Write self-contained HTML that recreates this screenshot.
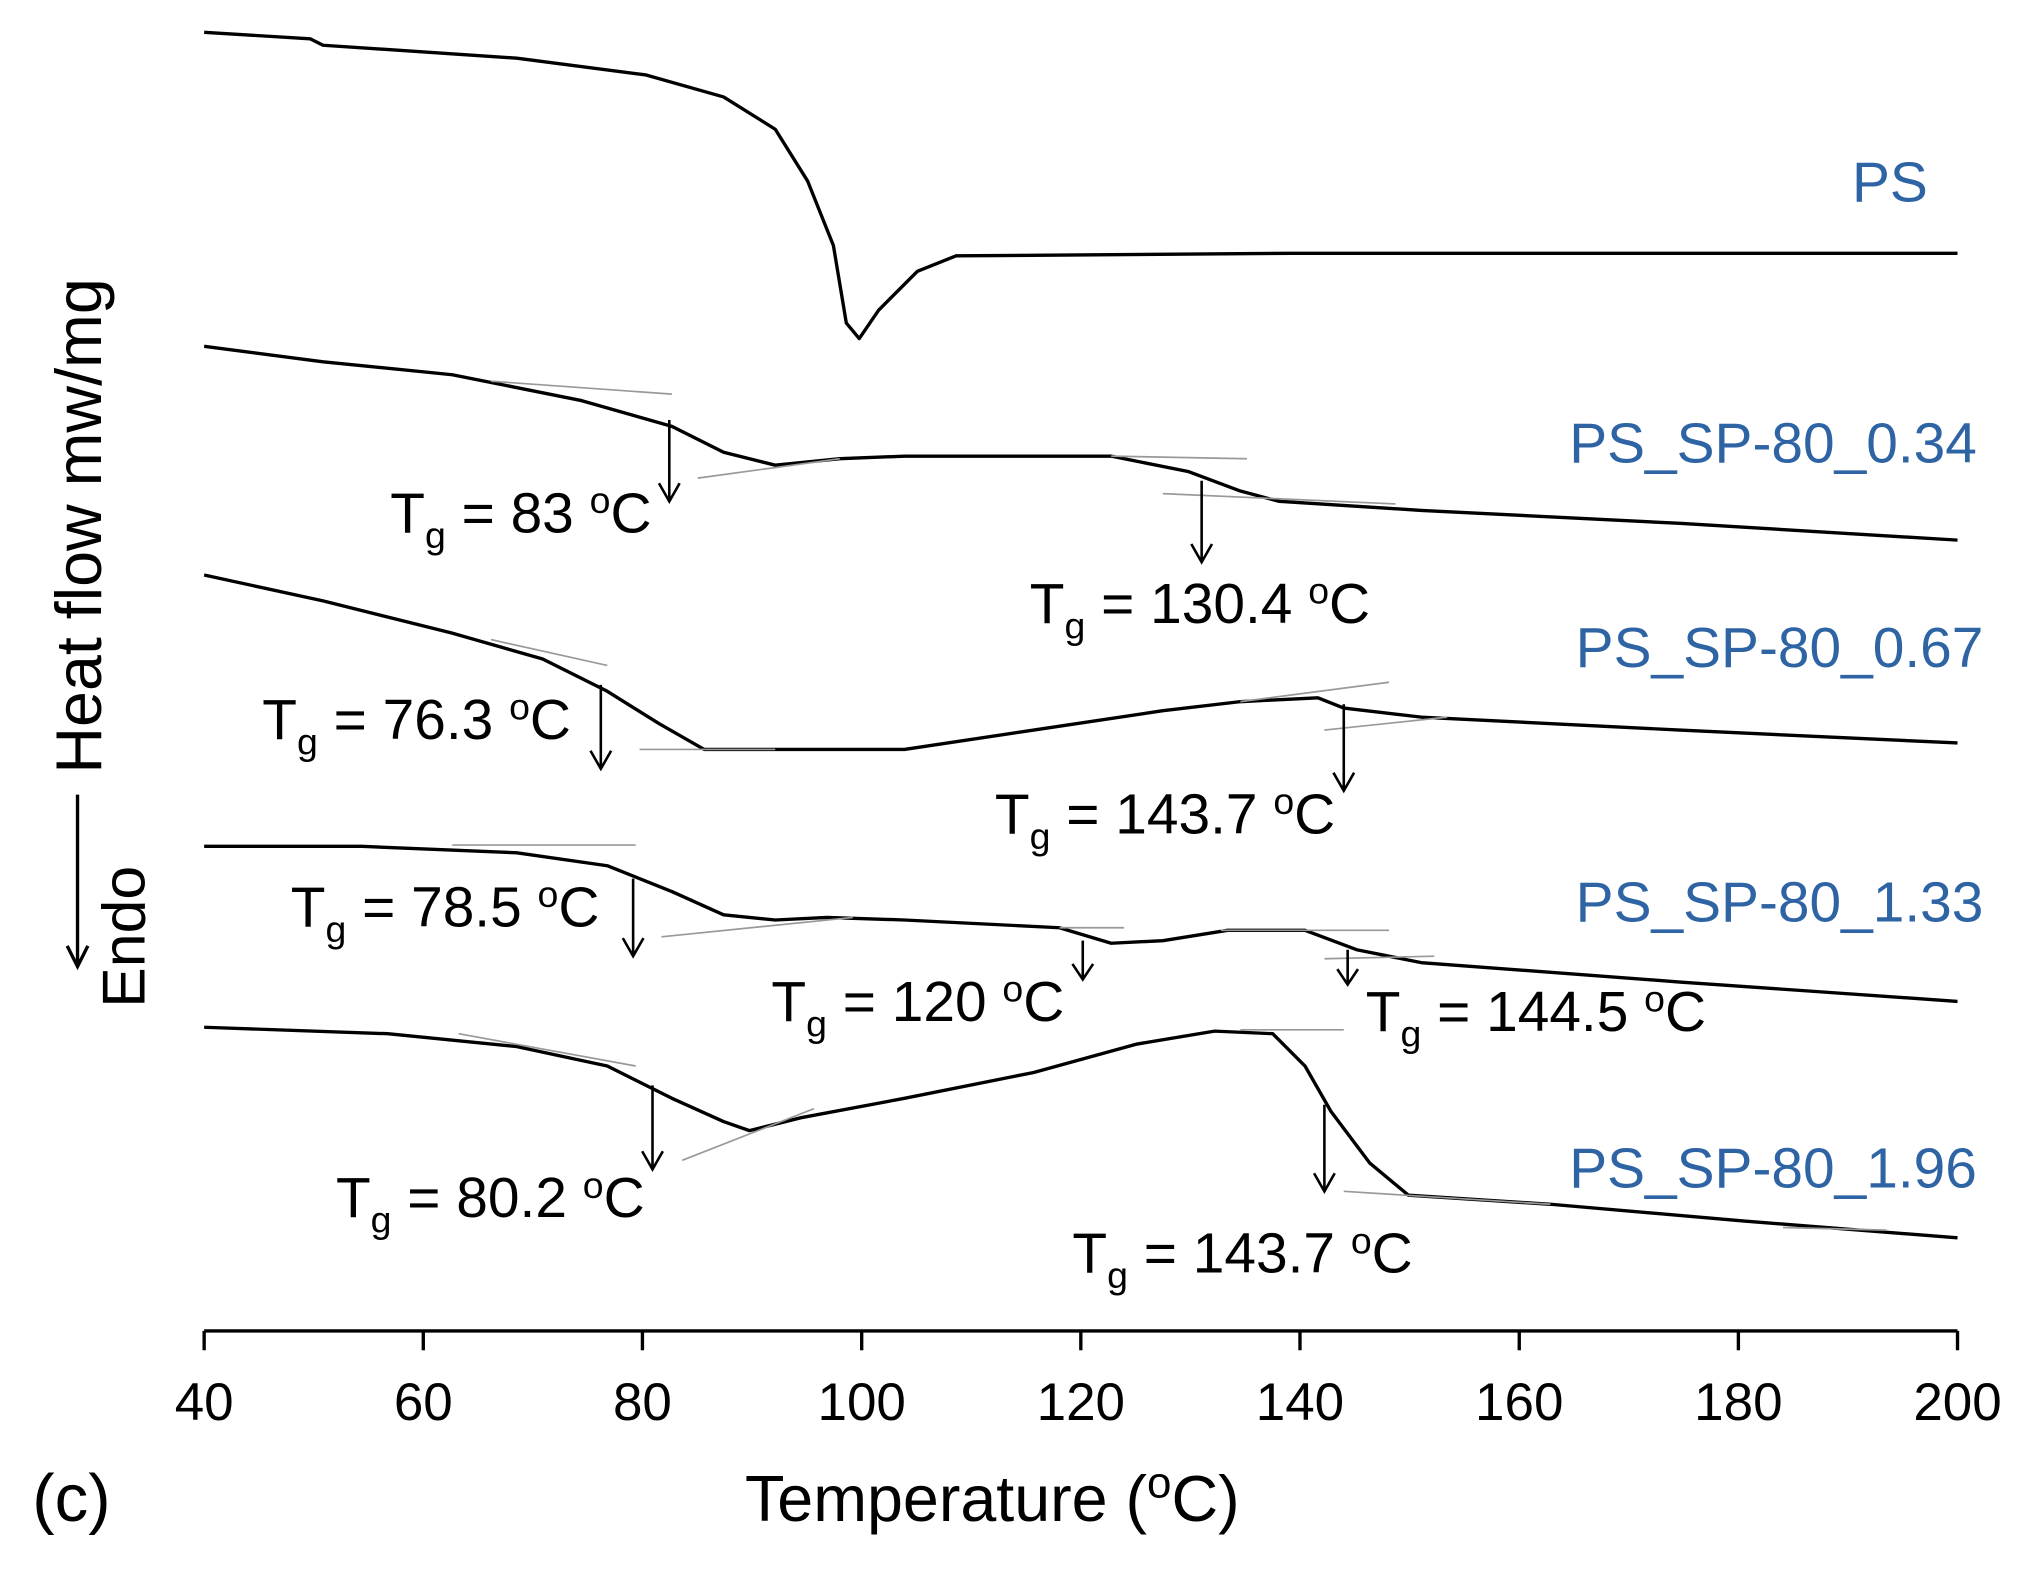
<!DOCTYPE html>
<html><head><meta charset="utf-8"><style>html,body{margin:0;padding:0;background:#fff}svg{display:block}</style></head>
<body>
<svg width="2026" height="1579" viewBox="0 0 1568 1222" xmlns="http://www.w3.org/2000/svg" font-family="Liberation Sans, Arial, sans-serif">
<rect width="1570" height="1225" fill="#fff"/>
<g fill="none" stroke="#000" stroke-width="2.6" stroke-linejoin="round">
<polyline points="158,25 240,30 250,35 400,45 500,58 560,75 600,100 625,140 645,190 655,250 665,262 680,240 710,210 740,198 1000,196 1515,196"/>
<polyline points="158,268 250,280 350,290 450,310 520,330 560,350 600,360 650,355 700,353 860,353 920,365 960,380 990,388 1100,395 1300,405 1515,418"/>
<polyline points="158,445 250,465 350,490 420,510 470,535 510,560 545,580 700,580 800,565 900,550 960,543 1020,540 1040,548 1100,555 1300,565 1515,575"/>
<polyline points="158,655 280,655 400,660 470,670 520,690 560,708 600,712 640,710 700,712 820,718 860,730 900,728 950,720 1010,720 1050,735 1100,745 1300,760 1515,775"/>
<polyline points="158,795 300,800 400,810 470,825 520,850 560,868 580,875 620,865 700,850 800,830 880,808 940,798 985,800 1010,825 1030,860 1060,900 1090,925 1200,932 1350,945 1515,958"/>
</g>
<g stroke="#999" stroke-width="1.3">
<line x1="380" y1="295" x2="520" y2="305"/><line x1="540" y1="370" x2="650" y2="355"/><line x1="860" y1="353" x2="965" y2="355"/><line x1="900" y1="382" x2="1080" y2="390"/>
<line x1="380" y1="495" x2="470" y2="515"/><line x1="495" y1="580" x2="600" y2="580"/><line x1="960" y1="543" x2="1075" y2="528"/><line x1="1025" y1="565" x2="1120" y2="555"/>
<line x1="350" y1="654" x2="492" y2="654"/><line x1="512" y1="725" x2="660" y2="710"/><line x1="820" y1="718" x2="870" y2="718"/><line x1="945" y1="720" x2="1075" y2="720"/><line x1="1025" y1="742" x2="1110" y2="740"/>
<line x1="355" y1="800" x2="492" y2="825"/><line x1="528" y1="898" x2="630" y2="858"/><line x1="960" y1="797" x2="1040" y2="797"/><line x1="1040" y1="922" x2="1200" y2="932"/><line x1="1380" y1="950" x2="1460" y2="952"/>
</g>
<g stroke="#000" stroke-width="2" fill="none">
<path d="M518,325V388M510,374L518,388L526,374"/>
<path d="M930,372V435M922,421L930,435L938,421"/>
<path d="M465,530V595M457,581L465,595L473,581"/>
<path d="M1040,545V612M1032,598L1040,612L1048,598"/>
<path d="M490,680V740M482,726L490,740L498,726"/>
<path d="M838,728V758M830,746L838,758L846,746"/>
<path d="M1043,735V762M1035,750L1043,762L1051,750"/>
<path d="M505,840V905M497,891L505,905L513,891"/>
<path d="M1025,855V922M1017,908L1025,922L1033,908"/>
</g>
<g font-size="44" fill="#000">
<text x="302" y="412">T<tspan font-size="29" dy="12">g</tspan><tspan dy="-12"> = 83 </tspan><tspan font-size="29" dy="-15">o</tspan><tspan dy="15">C</tspan></text>
<text x="797" y="482">T<tspan font-size="29" dy="12">g</tspan><tspan dy="-12"> = 130.4 </tspan><tspan font-size="29" dy="-15">o</tspan><tspan dy="15">C</tspan></text>
<text x="203" y="572">T<tspan font-size="29" dy="12">g</tspan><tspan dy="-12"> = 76.3 </tspan><tspan font-size="29" dy="-15">o</tspan><tspan dy="15">C</tspan></text>
<text x="770" y="645">T<tspan font-size="29" dy="12">g</tspan><tspan dy="-12"> = 143.7 </tspan><tspan font-size="29" dy="-15">o</tspan><tspan dy="15">C</tspan></text>
<text x="225" y="717">T<tspan font-size="29" dy="12">g</tspan><tspan dy="-12"> = 78.5 </tspan><tspan font-size="29" dy="-15">o</tspan><tspan dy="15">C</tspan></text>
<text x="597" y="790">T<tspan font-size="29" dy="12">g</tspan><tspan dy="-12"> = 120 </tspan><tspan font-size="29" dy="-15">o</tspan><tspan dy="15">C</tspan></text>
<text x="1057" y="798">T<tspan font-size="29" dy="12">g</tspan><tspan dy="-12"> = 144.5 </tspan><tspan font-size="29" dy="-15">o</tspan><tspan dy="15">C</tspan></text>
<text x="260" y="942">T<tspan font-size="29" dy="12">g</tspan><tspan dy="-12"> = 80.2 </tspan><tspan font-size="29" dy="-15">o</tspan><tspan dy="15">C</tspan></text>
<text x="830" y="985">T<tspan font-size="29" dy="12">g</tspan><tspan dy="-12"> = 143.7 </tspan><tspan font-size="29" dy="-15">o</tspan><tspan dy="15">C</tspan></text>
</g>
<g font-size="44" fill="#2e63a4" text-anchor="end">
<text x="1492" y="156">PS</text>
<text x="1530" y="358">PS_SP-80_0.34</text>
<text x="1535" y="516">PS_SP-80_0.67</text>
<text x="1535" y="713">PS_SP-80_1.33</text>
<text x="1530" y="919">PS_SP-80_1.96</text>
</g>
<g stroke="#000" stroke-width="2.6">
<line x1="158" y1="1030" x2="1515" y2="1030"/>
<line x1="158.0" y1="1030" x2="158.0" y2="1045"/><line x1="327.6" y1="1030" x2="327.6" y2="1045"/><line x1="497.2" y1="1030" x2="497.2" y2="1045"/><line x1="666.9" y1="1030" x2="666.9" y2="1045"/><line x1="836.5" y1="1030" x2="836.5" y2="1045"/><line x1="1006.1" y1="1030" x2="1006.1" y2="1045"/><line x1="1175.8" y1="1030" x2="1175.8" y2="1045"/><line x1="1345.4" y1="1030" x2="1345.4" y2="1045"/><line x1="1515" y1="1030" x2="1515" y2="1045"/>
</g>
<g font-size="41" text-anchor="middle" fill="#000">
<text x="158" y="1099">40</text><text x="327.6" y="1099">60</text><text x="497.2" y="1099">80</text><text x="666.9" y="1099">100</text><text x="836.5" y="1099">120</text><text x="1006.1" y="1099">140</text><text x="1175.8" y="1099">160</text><text x="1345.4" y="1099">180</text><text x="1515" y="1099">200</text>
</g>
<text x="768" y="1177" font-size="50" text-anchor="middle">Temperature (<tspan font-size="34" dy="-18">o</tspan><tspan dy="18">C)</tspan></text>
<text x="25" y="1177" font-size="52">(c)</text>
<text transform="translate(78,407) rotate(-90)" font-size="50" text-anchor="middle">Heat flow mw/mg</text>
<path d="M60,615V748M52,732L60,748L68,732" stroke="#000" stroke-width="2.6" fill="none"/>
<text transform="translate(112,725) rotate(-90)" font-size="47" text-anchor="middle">Endo</text>
</svg>
</body></html>
